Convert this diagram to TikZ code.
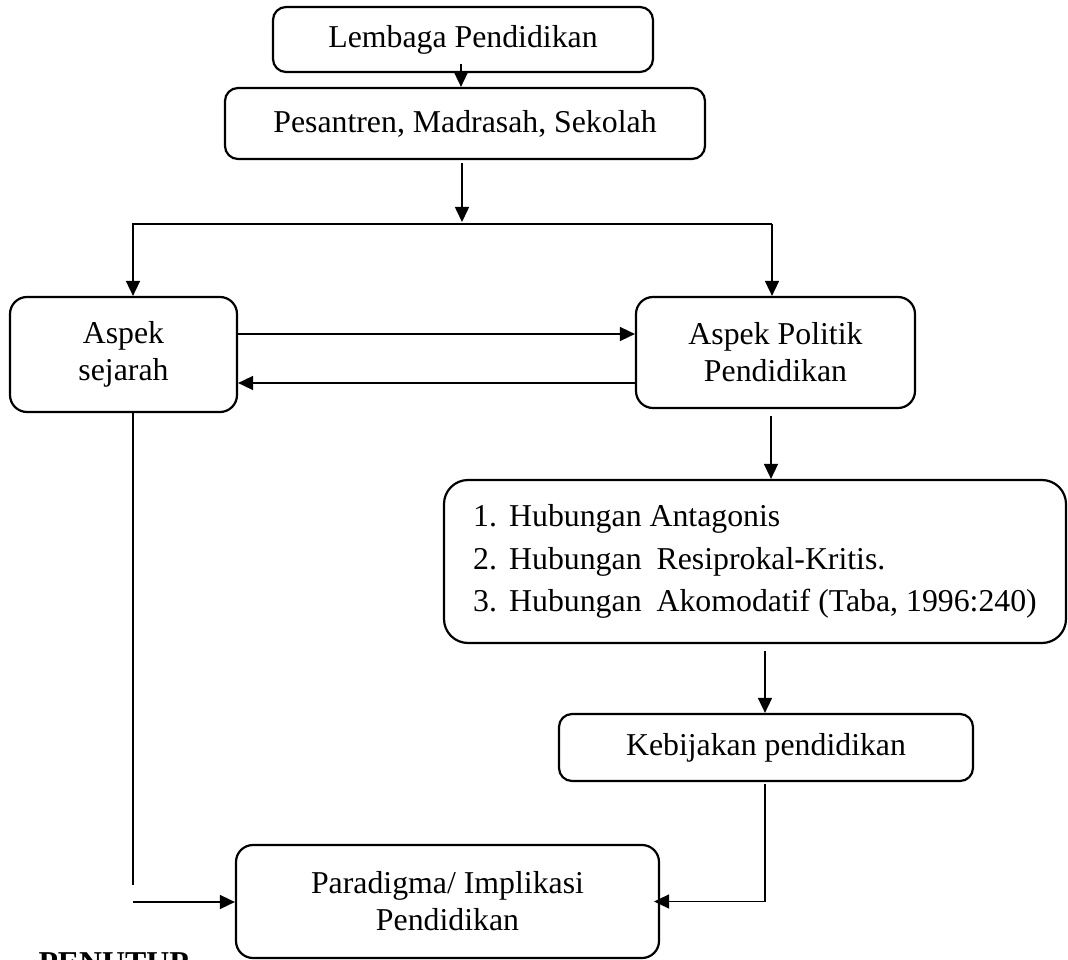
\documentclass[tikz,border=0pt]{standalone}
\usepackage{fontspec}
\setmainfont{Liberation Serif}
\usetikzlibrary{arrows.meta, positioning, calc}

\tikzset{
  kotak/.style={draw, line width=2.2pt, rounded corners=#1, align=center, inner sep=0pt},
  kotak/.default=13pt,
  panah/.style={-{Triangle[length=15pt,width=14pt]}, line width=1.6pt},
  garis/.style={line width=1.6pt}
}

\begin{document}
\begin{tikzpicture}[x=1pt, y=-1pt, font=\fontsize{31.8pt}{37pt}\selectfont]
  \useasboundingbox (0,0) rectangle (1068,960);

  % kotak-kotak
  \node[kotak, minimum width=380pt, minimum height=65pt] (lembaga) at (463,39.5) {Lembaga Pendidikan};
  \node[kotak, minimum width=480pt, minimum height=71pt] (jenis) at (465,123.5) {Pesantren, Madrasah, Sekolah};
  \node[kotak=17pt, minimum width=227pt, minimum height=115pt] (sejarah) at (123.5,354.5) {Aspek\\sejarah};
  \node[kotak=17pt, minimum width=279pt, minimum height=111pt] (politik) at (775.5,352.5) {Aspek Politik\\Pendidikan};
  \node[kotak=24pt, minimum width=622pt, minimum height=163pt, align=left,
        font=\fontsize{31.8pt}{42.5pt}\selectfont] (hubungan) at (755,561.5)
    {\makebox[36pt][l]{1.}Hubungan Antagonis\\
     \makebox[36pt][l]{2.}Hubungan\hspace{15pt}Resiprokal-Kritis.\\
     \makebox[36pt][l]{3.}Hubungan\hspace{15pt}Akomodatif (Taba, 1996:240)};
  \node[kotak, minimum width=414pt, minimum height=67pt] (kebijakan) at (766,747.5) {Kebijakan pendidikan};
  \node[kotak=17pt, minimum width=423pt, minimum height=113pt] (paradigma) at (447.5,901.5) {Paradigma/ Implikasi\\Pendidikan};
  \node[anchor=base west, font=\fontsize{31.8pt}{37pt}\selectfont\bfseries] (penutup) at (35,973) {PENUTUP};

  % titik cabang
  \coordinate (kiri) at (133,224);
  \coordinate (kanan) at (772,224);
  \coordinate (belok) at (133,902);

  % panah
  \draw[panah] ([xshift=-2pt,yshift=9pt]lembaga.south) -- ([xshift=-2pt]lembaga.south |- jenis.north);
  \draw[panah] ([xshift=-3pt,yshift=-3pt]jenis.south) -- ([xshift=-3pt,yshift=2pt]jenis.south |- kiri);
  \draw[panah] (kanan) -- (kiri) -- (kiri |- sejarah.north);
  \draw[panah] (kanan) -- (kanan |- politik.north);
  \draw[panah] ([yshift=20.5pt]sejarah.east) -- ([yshift=20.5pt]sejarah.east -| politik.west);
  \draw[panah] ([yshift=-30.5pt]politik.west) -- ([yshift=-30.5pt]politik.west -| sejarah.east);
  \draw[panah] ([xshift=-4.5pt,yshift=-7pt]politik.south) -- ([xshift=-4.5pt]politik.south |- hubungan.north);
  \draw[panah] ([xshift=10pt,yshift=-7pt]hubungan.south) -- ([xshift=10pt]hubungan.south |- kebijakan.north);
  \draw[panah] ([xshift=-1pt,yshift=-2pt]kebijakan.south) |- ([xshift=-6pt]paradigma.east);
  \draw[garis] (kiri |- sejarah.south) -- ([yshift=17pt]belok);
  \draw[panah] (belok) -- (paradigma.west |- belok);
\end{tikzpicture}
\end{document}
